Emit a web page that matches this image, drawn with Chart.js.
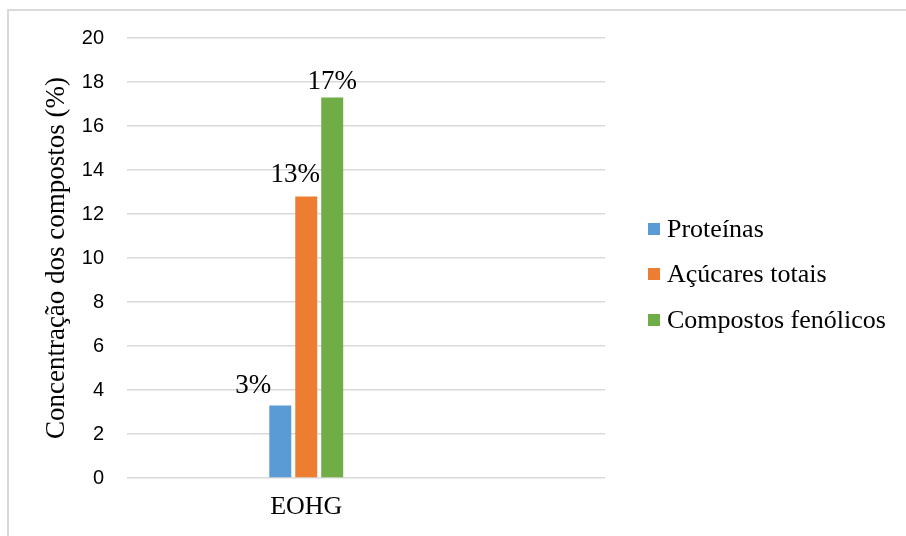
<!DOCTYPE html>
<html>
<head>
<meta charset="utf-8">
<title>Concentração dos compostos</title>
<script src="https://cdn.jsdelivr.net/npm/chart.js@4.4.1/dist/chart.umd.min.js"></script>
<style>
  html, body { margin: 0; padding: 0; background: #fff; }
  #wrap { position: relative; width: 906px; height: 536px; overflow: hidden; }
  #chart { position: absolute; left: 0; top: 0; }
  #frame {
    position: absolute; left: 7px; top: 9px; right: 0; bottom: 0;
    border-top: 2px solid #d9d9d9; border-left: 2px solid #d9d9d9;
    pointer-events: none;
  }
  #legend {
    position: absolute; left: 648px; top: 206px;
    margin: 0; padding: 0; list-style: none;
    font-family: "Liberation Serif", "Times New Roman", serif;
    font-size: 26px; color: #000;
  }
  #legend li { display: flex; align-items: center; height: 45.5px; white-space: nowrap; }
  #legend .swatch { display: inline-block; width: 12px; height: 12px; margin-right: 7px; }
</style>
</head>
<body>
<div id="wrap">
  <canvas id="chart" width="906" height="536"></canvas>
  <ul id="legend"></ul>
  <div id="frame"></div>
</div>
<script>
'use strict'

//------------------Data----------------------//
var categories = ['EOHG'];
var seriesNames = ['Proteínas', 'Açúcares totais', 'Compostos fenólicos'];
var proteinas = [3.3];
var acucares = [12.8];
var fenolicos = [17.3];
var yMin = 0;
var yMax = 20;
var yStep = 2;

//------------------Styles----------------------//
var colors = ['#5b9bd5', '#ed7d31', '#70ad47'];
var serif = '"Liberation Serif", "Times New Roman", serif';
var sans = '"Liberation Sans", Arial, sans-serif';

// where each percentage label sits relative to the top of its bar
var labelShift = [
  { dx: -27, dy: 12 },
  { dx: -11, dy: 14 },
  { dx: 0, dy: 8 }
];

// bars sit on a linear x axis so the group can be placed left of centre
function toPoints(values) {
  return categories.map(function(c, i) {
    return { x: i, y: values[i] };
  });
}

//-------------Percentage labels above bars-----------------//
var valueLabels = {
  id: 'valueLabels',
  afterDatasetsDraw: function(chart) {
    var ctx = chart.ctx;
    ctx.save();
    ctx.font = '27px ' + serif;
    ctx.fillStyle = '#000';
    ctx.textAlign = 'center';
    ctx.textBaseline = 'alphabetic';
    chart.data.datasets.forEach(function(ds, i) {
      chart.getDatasetMeta(i).data.forEach(function(bar, j) {
        var text = Math.round(ds.data[j].y) + '%';
        ctx.fillText(text, bar.x + labelShift[i].dx, bar.y - labelShift[i].dy);
      });
    });
    ctx.restore();
  }
};

var seriesValues = [proteinas, acucares, fenolicos];
var datasets = seriesNames.map(function(name, i) {
  return {
    label: name,
    data: toPoints(seriesValues[i]),
    backgroundColor: colors[i],
    borderWidth: 0,
    barPercentage: 0.846,
    categoryPercentage: 0.163
  };
});

var ctx = document.getElementById('chart').getContext('2d');
var chart = new Chart(ctx, {
  type: 'bar',
  data: { datasets: datasets },
  plugins: [valueLabels],
  options: {
    responsive: false,
    animation: false,
    layout: { padding: { top: 38, right: 301, bottom: 13, left: 41 } },
    plugins: {
      legend: { display: false },
      tooltip: { enabled: false }
    },
    scales: {
      x: {
        type: 'linear',
        min: -3,
        max: 5,
        offset: false,
        afterBuildTicks: function(scale) {
          scale.ticks = categories.map(function(c, i) { return { value: i }; });
        },
        afterFit: function(scale) { scale.height = 45; },
        ticks: {
          padding: 14,
          color: '#000',
          font: { family: serif, size: 26 },
          callback: function(value) { return categories[value]; }
        },
        grid: { display: false, drawTicks: false, offset: false },
        border: { display: false }
      },
      y: {
        min: yMin,
        max: yMax,
        afterFit: function(scale) { scale.width = 86; },
        ticks: {
          stepSize: yStep,
          padding: 23,
          color: '#000',
          font: { family: sans, size: 20 }
        },
        grid: { color: '#d9d9d9', lineWidth: 1.5, drawTicks: false },
        border: { display: false },
        title: {
          display: true,
          text: 'Concentração dos compostos (%)',
          color: '#000',
          font: { family: serif, size: 27 },
          padding: { top: 0, bottom: 9 }
        }
      }
    }
  }
});

//----------------Legend---------------------// one row per dataset, beside the plot
var legendEl = document.getElementById('legend');
chart.data.datasets.forEach(function(ds) {
  var item = document.createElement('li');
  var swatch = document.createElement('span');
  swatch.className = 'swatch';
  swatch.style.background = ds.backgroundColor;
  item.appendChild(swatch);
  item.appendChild(document.createTextNode(ds.label));
  legendEl.appendChild(item);
});
</script>
</body>
</html>
